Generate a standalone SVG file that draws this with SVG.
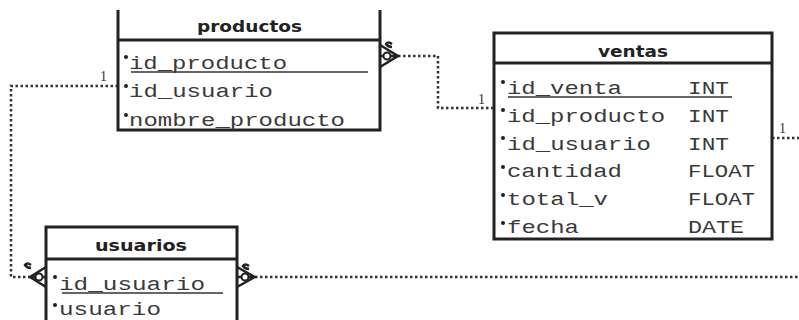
<svg xmlns="http://www.w3.org/2000/svg" width="799" height="320" viewBox="0 0 799 320">
<style>
.box{fill:#fff;stroke:#222;stroke-width:3}
.sep{stroke:#222;stroke-width:3}
.hdr{font-family:"DejaVu Sans","Liberation Sans",sans-serif;font-weight:bold;font-size:15px;fill:#222;text-anchor:middle}
.att{font-family:"Liberation Mono","DejaVu Sans Mono",monospace;font-size:18px;fill:#3a3a3a}
.typ{font-family:"Liberation Mono","DejaVu Sans Mono",monospace;font-size:18px;fill:#3a3a3a}
.ul{stroke:#333;stroke-width:1.5}
.dot{fill:#222}
.conn{fill:none;stroke:#333;stroke-width:2.5;stroke-dasharray:2.5 2.5}
.crow{fill:none;stroke:#222;stroke-width:2.5}
.lbl{font-family:"Liberation Serif","DejaVu Serif",serif;font-size:14px;fill:#333}
</style>
<rect width="799" height="320" fill="#fff"/>

<g id="connectors">
  <path class="conn" d="M118,86 H11 V277 H30"/>
  <text class="lbl" x="100" y="81">1</text>
  <path class="conn" d="M398,56 H438 V108 H494"/>
  <text class="lbl" x="478" y="104">1</text>
  <path class="conn" d="M772,138 H799"/>
  <text class="lbl" x="779" y="133">1</text>
  <path class="conn" d="M255,277 H799"/>
  <g id="crow-productos">
    <path class="crow" d="M380,45 L398,56 L380,67 M380,56 H398"/>
    <circle cx="387" cy="56" r="3.5" fill="#fff" stroke="#222" stroke-width="2"/>
    <path class="crow" stroke-width="1.5" d="M392,44 q-4,-3 -6,0 q2,3 6,3"/>
  </g>
  <g id="crow-usuarios-left">
    <path class="crow" d="M46,267 L30,277 L46,287 M46,277 H30"/>
    <circle cx="39" cy="277" r="3.5" fill="#fff" stroke="#222" stroke-width="2"/>
    <path class="crow" stroke-width="1.5" d="M31,265 q-4,-3 -6,0 q2,3 6,3"/>
  </g>
  <g id="crow-usuarios-right">
    <path class="crow" d="M237,267 L255,277 L237,287 M237,277 H255"/>
    <circle cx="245" cy="277" r="3.5" fill="#fff" stroke="#222" stroke-width="2"/>
    <path class="crow" stroke-width="1.5" d="M249,266 q-4,-3 -6,0 q2,3 6,3"/>
  </g>
</g>

<g id="productos">
  <path d="M118,10 V130 H380 V10" fill="#fff" stroke="#222" stroke-width="3"/>
  <line class="sep" x1="118" y1="40" x2="380" y2="40"/>
  <text class="hdr" x="249.5" y="32" textLength="105" lengthAdjust="spacingAndGlyphs">productos</text>
  <circle class="dot" cx="126" cy="57" r="2"/>
  <text class="att" x="129" y="69" textLength="158" lengthAdjust="spacingAndGlyphs">id_producto</text>
  <line class="ul" x1="131" y1="72" x2="368" y2="72"/>
  <circle class="dot" cx="126" cy="86" r="2"/>
  <text class="att" x="129" y="97" textLength="144" lengthAdjust="spacingAndGlyphs">id_usuario</text>
  <circle class="dot" cx="126" cy="115" r="2"/>
  <text class="att" x="129" y="126" textLength="216" lengthAdjust="spacingAndGlyphs">nombre_producto</text>
</g>

<g id="ventas">
  <rect class="box" x="494" y="33" width="278" height="206"/>
  <line class="sep" x1="494" y1="63" x2="772" y2="63"/>
  <text class="hdr" x="633" y="57" textLength="70" lengthAdjust="spacingAndGlyphs">ventas</text>
  <circle class="dot" cx="503" cy="82" r="2"/>
  <text class="att" x="507" y="94" textLength="115" lengthAdjust="spacingAndGlyphs">id_venta</text>
  <text class="typ" x="688" y="94" textLength="41" lengthAdjust="spacingAndGlyphs">INT</text>
  <line class="ul" x1="508" y1="97" x2="732" y2="97"/>
  <circle class="dot" cx="503" cy="110" r="2"/>
  <text class="att" x="507" y="122" textLength="158" lengthAdjust="spacingAndGlyphs">id_producto</text>
  <text class="typ" x="688" y="122" textLength="41" lengthAdjust="spacingAndGlyphs">INT</text>
  <circle class="dot" cx="503" cy="138" r="2"/>
  <text class="att" x="507" y="150" textLength="144" lengthAdjust="spacingAndGlyphs">id_usuario</text>
  <text class="typ" x="688" y="150" textLength="41" lengthAdjust="spacingAndGlyphs">INT</text>
  <circle class="dot" cx="503" cy="167" r="2"/>
  <text class="att" x="507" y="177" textLength="115" lengthAdjust="spacingAndGlyphs">cantidad</text>
  <text class="typ" x="688" y="177" textLength="67" lengthAdjust="spacingAndGlyphs">FLOAT</text>
  <circle class="dot" cx="503" cy="195" r="2"/>
  <text class="att" x="507" y="205" textLength="101" lengthAdjust="spacingAndGlyphs">total_v</text>
  <text class="typ" x="688" y="205" textLength="67" lengthAdjust="spacingAndGlyphs">FLOAT</text>
  <circle class="dot" cx="503" cy="223" r="2"/>
  <text class="att" x="507" y="233" textLength="72" lengthAdjust="spacingAndGlyphs">fecha</text>
  <text class="typ" x="688" y="233" textLength="56" lengthAdjust="spacingAndGlyphs">DATE</text>
</g>

<g id="usuarios">
  <path d="M46,322 V227 H237 V322" fill="#fff" stroke="#222" stroke-width="3"/>
  <line class="sep" x1="46" y1="259" x2="237" y2="259"/>
  <text class="hdr" x="141" y="251" textLength="92" lengthAdjust="spacingAndGlyphs">usuarios</text>
  <circle class="dot" cx="55" cy="277" r="2"/>
  <text class="att" x="59" y="290" textLength="146" lengthAdjust="spacingAndGlyphs">id_usuario</text>
  <line class="ul" x1="62" y1="293" x2="223" y2="293"/>
  <circle class="dot" cx="55" cy="305" r="2"/>
  <text class="att" x="59" y="315" textLength="102" lengthAdjust="spacingAndGlyphs">usuario</text>
</g>
</svg>
